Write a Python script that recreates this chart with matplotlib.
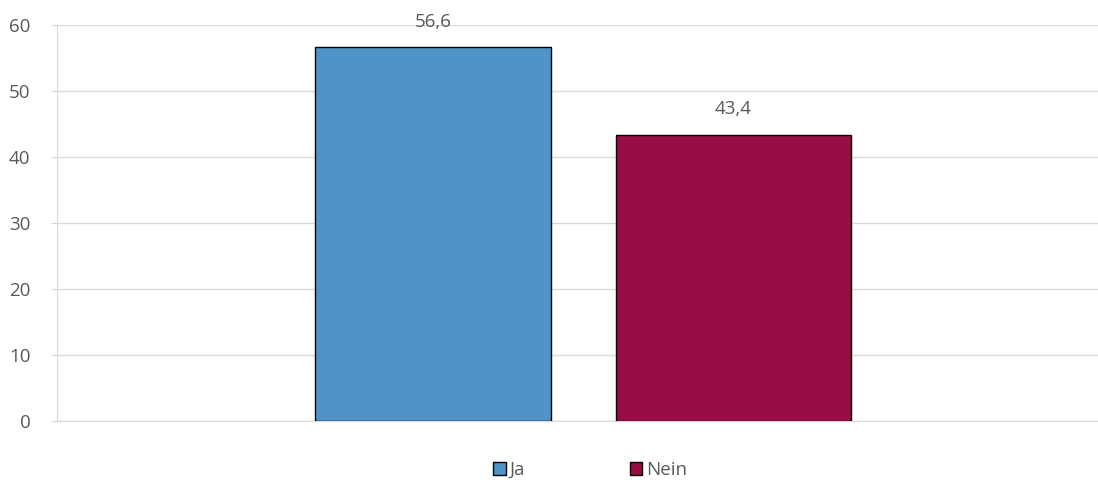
import numpy as np
from matplotlib import pyplot as plt
from matplotlib.patches import Patch

series = ["Ja", "Nein"]
values = [56.6, 43.4]
colors = ["#4F94C8", "#990D47"]
yticks = [0, 10, 20, 30, 40, 50, 60]

text_color = "#595959"
grid_color = "#D9D9D9"

plt.rcParams["font.family"] = ["Open Sans", "DejaVu Sans"]

fig = plt.figure(figsize=(10.98, 4.84), dpi=100)
ax = fig.add_axes([57 / 1098, 63 / 484, (1098 - 57) / 1098, 396 / 484])

x = np.arange(len(series))
bars = ax.bar(x, values, width=0.785, color=colors, edgecolor="black",
              linewidth=1, zorder=3)

for bar, v in zip(bars, values):
    ax.annotate(f"{v:.1f}".replace(".", ","),
                (bar.get_x() + bar.get_width() / 2, v),
                xytext=(0, 12), textcoords="offset points",
                ha="center", va="bottom", fontsize=13.5, color=text_color)

ax.set_xlim(-1.251, 2.213)
ax.set_ylim(0, 60)
ax.set_yticks(yticks)
ax.set_yticklabels([str(t) for t in yticks])
ax.set_xticks([])
ax.grid(axis="y", color=grid_color, linewidth=1, zorder=0)
for s in ["top", "right"]:
    ax.spines[s].set_visible(False)
ax.spines["left"].set_color(grid_color)
ax.spines["bottom"].set_color(grid_color)
ax.tick_params(axis="y", length=4, color=grid_color, labelcolor=text_color,
               labelsize=13.5, pad=15)

handles = [Patch(facecolor=c, edgecolor="black", linewidth=1) for c in colors]
fig.legend(handles, series, loc="center", bbox_to_anchor=(590 / 1098, 14 / 484),
           ncol=2, frameon=False, fontsize=13.5, labelcolor=text_color,
           handlelength=0.65, handleheight=0.65, handletextpad=0.2,
           columnspacing=5.6)

fig.savefig("out.png", dpi=100)
